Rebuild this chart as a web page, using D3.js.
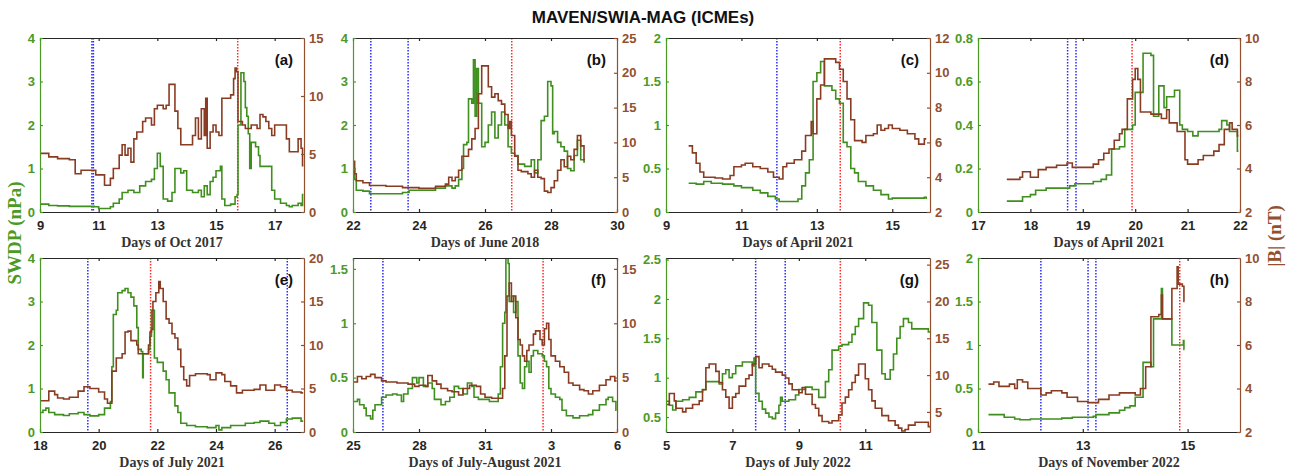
<!DOCTYPE html>
<html><head><meta charset="utf-8">
<script src="https://cdn.jsdelivr.net/npm/d3@7"></script>
<style>body{margin:0;background:#fff}svg{display:block}</style>
</head><body>
<script>
// ---------- DATA ----------
const panelLabels = ["(a)","(b)","(c)","(d)","(e)","(f)","(g)","(h)"];
const xLabels = ["Days of Oct 2017","Days of June 2018","Days of April 2021","Days of April 2021",
  "Days of July 2021","Days of July-August 2021","Days of July 2022","Days of November 2022"];
const xDomains = [[9,18],[22,30],[9,16],[17,22],[18,27],[25,37],[5,12.95],[11,16]];
const xTickVals = [[9,11,13,15,17],[22,24,26,28,30],[9,11,13,15],[17,18,19,20,21,22],
  [18,20,22,24,26],[25,28,31,34,37],[5,7,9,11],[11,13,15]];
const xTickLabels = [["9","11","13","15","17"],["22","24","26","28","30"],["9","11","13","15"],
  ["17","18","19","20","21","22"],["18","20","22","24","26"],["25","28","31","3","6"],
  ["5","7","9","11"],["11","13","15"]];
const leftDomains = [[0,4],[0,4],[0,2],[0,0.8],[0,4],[0,1.6],[0.31,2.52],[0,2]];
const leftTicks = [[0,1,2,3,4],[0,1,2,3,4],[0,0.5,1,1.5,2],[0,0.2,0.4,0.6,0.8],[0,1,2,3,4],
  [0,0.5,1,1.5],[0.5,1,1.5,2,2.5],[0,0.5,1,1.5,2]];
const rightDomains = [[0,15],[0,25],[2,12],[2,10],[0,20],[0,16],[2.27,25.9],[2,10]];
const rightTicks = [[0,5,10,15],[0,5,10,15,20,25],[2,4,6,8,10,12],[2,4,6,8,10],[0,5,10,15,20],
  [0,5,10,15],[5,10,15,20,25],[2,4,6,8,10]];
const blueLines = [[10.77,10.82],[22.54,23.67],[11.94],[18.71,18.87],[19.63,26.43],[26.36],[7.7,8.59],[12.2,13.1,13.25]];
const redLines = [[15.74],[26.81],[13.62],[19.94],[21.77],[33.64],[10.25],[14.85]];

const swdpA = [[9,0.18],[9.3,0.15],[9.6,0.14],[10,0.13],[10.4,0.13],[10.85,0.12],[11,0.08],[11.35,0.08],[11.4,0.12],[11.5,0.2],[11.7,0.3],[11.8,0.45],[12,0.5],[12.2,0.45],[12.4,0.6],[12.6,0.7],[12.8,0.75],[12.9,1.0],[13.0,1.35],[13.1,1.05],[13.2,0.3],[13.35,0.25],[13.5,0.45],[13.6,1.0],[13.8,0.9],[13.9,0.95],[14.0,0.5],[14.2,0.45],[14.4,0.5],[14.5,0.35],[14.6,0.6],[14.7,0.4],[14.8,0.7],[14.9,0.8],[15.0,0.95],[15.15,1.05],[15.2,0.3],[15.3,0.15],[15.5,0.18],[15.65,0.35],[15.72,0.4],[15.75,2.0],[15.85,3.2],[15.95,3.0],[16.0,2.4],[16.05,2.2],[16.1,1.8],[16.15,1.0],[16.2,1.6],[16.35,1.5],[16.45,1.3],[16.5,1.05],[16.8,1.05],[16.9,0.5],[17.0,0.3],[17.2,0.2],[17.4,0.15],[17.5,0.12],[17.6,0.15],[17.8,0.2],[17.9,0.15],[17.95,0.4],[17.98,0.4]];
const bA = [[9,5.05],[9.3,4.75],[9.6,4.6],[10,4.5],[10.2,3.3],[10.4,3.6],[10.8,3.6],[10.9,3.2],[11.1,3.2],[11.2,2.3],[11.4,2.9],[11.5,3.75],[11.7,4.9],[11.8,5.8],[11.9,4.9],[12,5.5],[12.1,4.3],[12.2,6.3],[12.3,6.9],[12.5,7.8],[12.6,8.1],[12.8,7.5],[12.9,8.9],[13,9.2],[13.2,8.9],[13.3,9.2],[13.4,11],[13.5,11],[13.6,8.7],[13.7,7.2],[13.8,5.8],[14,5.8],[14.2,6.6],[14.3,8.1],[14.4,6.3],[14.5,8.9],[14.6,6.6],[14.65,9.8],[14.7,5.5],[14.8,6.9],[14.9,7.5],[15,6.9],[15.1,6.6],[15.2,9.8],[15.4,9.8],[15.5,10.1],[15.6,11.5],[15.65,12.4],[15.7,12.1],[15.75,7.8],[15.9,7.5],[16,7.2],[16.2,7.5],[16.4,7.2],[16.5,8.4],[16.6,8.2],[16.7,7.8],[16.8,7.2],[16.9,6.6],[17,7.5],[17.3,7.5],[17.4,6.3],[17.5,5.2],[17.7,5.2],[17.8,6.3],[17.9,5.5],[17.95,4.0],[17.98,4.0]];

const swdpB = [[22,1.0],[22.05,0.75],[22.1,0.5],[22.3,0.48],[22.5,0.42],[23,0.42],[23.5,0.45],[23.7,0.5],[24,0.5],[24.5,0.55],[24.8,0.6],[25,0.55],[25.1,0.6],[25.2,0.75],[25.3,1.0],[25.35,1.55],[25.45,1.6],[25.5,2.6],[25.6,2.5],[25.65,3.5],[25.7,2.2],[25.75,3.3],[25.8,2.5],[25.9,1.5],[26,1.6],[26.1,2.0],[26.2,2.3],[26.3,1.7],[26.4,2.0],[26.5,2.3],[26.6,2.0],[26.7,1.5],[26.8,1.35],[26.9,1.3],[27,1.1],[27.2,1.05],[27.4,1.2],[27.5,0.9],[27.6,1.2],[27.7,2.1],[27.8,2.2],[27.9,3.0],[28,2.9],[28.05,1.8],[28.1,1.85],[28.2,1.6],[28.3,1.5],[28.4,1.4],[28.5,1.0],[28.6,0.95],[28.7,1.3],[28.8,1.65],[28.9,1.2],[29,1.15],[29.03,1.15]];
const bB = [[22,7.3],[22.05,5.5],[22.1,4.5],[22.3,4.2],[22.5,3.8],[23,3.7],[23.5,3.5],[24,3.4],[24.5,3.7],[24.8,4.0],[24.9,5.0],[25,4.5],[25.1,5.0],[25.2,6.0],[25.3,8.0],[25.5,9.0],[25.6,10.5],[25.7,12.0],[25.8,17.0],[25.9,21.0],[26,21.0],[26.1,18.0],[26.2,16.5],[26.3,17.0],[26.4,16.0],[26.5,15.5],[26.6,14.0],[26.7,12.0],[26.75,13.0],[26.8,11.0],[26.9,8.0],[27,6.0],[27.1,5.8],[27.3,5.5],[27.4,5.0],[27.5,6.0],[27.6,5.0],[27.7,4.8],[27.8,3.0],[27.9,2.8],[28,3.5],[28.1,4.5],[28.2,6.0],[28.3,7.5],[28.4,6.5],[28.5,8.0],[28.6,7.5],[28.7,9.0],[28.8,11.0],[28.9,9.5],[29,7.5],[29.03,7.5]];

const swdpC = [[9.6,0.33],[9.8,0.32],[10,0.35],[10.2,0.33],[10.5,0.32],[10.8,0.3],[11,0.28],[11.3,0.25],[11.5,0.22],[11.7,0.18],[11.9,0.15],[12,0.12],[12.3,0.12],[12.5,0.15],[12.6,0.3],[12.7,0.45],[12.8,0.6],[12.9,1.5],[13,1.6],[13.1,1.73],[13.2,1.45],[13.3,1.45],[13.4,1.4],[13.5,1.3],[13.6,1.25],[13.7,0.8],[13.8,0.75],[13.9,0.5],[14,0.45],[14.1,0.35],[14.3,0.3],[14.5,0.25],[14.7,0.2],[14.9,0.15],[15,0.16],[15.3,0.16],[15.6,0.16],[15.85,0.17],[15.9,0.15]];
const bC = [[9.6,5.8],[9.7,5.4],[9.8,4.8],[9.9,4.3],[10,4.0],[10.3,3.95],[10.5,3.9],[10.7,4.1],[10.8,4.6],[11,4.7],[11.1,4.8],[11.3,4.6],[11.5,4.5],[11.7,4.3],[11.85,4.0],[12,3.9],[12.1,4.6],[12.2,4.8],[12.4,5.0],[12.6,5.5],[12.7,6.4],[12.85,7.2],[12.9,6.5],[13,8.5],[13.1,9.3],[13.2,10.8],[13.4,10.8],[13.5,10.6],[13.6,10.2],[13.7,9.5],[13.8,8.5],[13.9,7.3],[14,6.1],[14.2,6.0],[14.3,6.4],[14.5,6.5],[14.6,7.0],[14.7,6.7],[14.8,6.8],[14.9,7.0],[15,6.8],[15.2,6.7],[15.4,6.5],[15.6,6.2],[15.7,5.9],[15.85,6.2],[15.9,6.2]];

const swdpD = [[17.55,0.05],[17.85,0.07],[18,0.08],[18.1,0.1],[18.3,0.11],[18.5,0.11],[18.75,0.12],[18.85,0.13],[19,0.13],[19.2,0.14],[19.35,0.15],[19.45,0.17],[19.55,0.29],[19.7,0.3],[19.8,0.38],[19.95,0.4],[20,0.55],[20.1,0.55],[20.15,0.73],[20.3,0.72],[20.35,0.44],[20.45,0.58],[20.55,0.48],[20.6,0.53],[20.75,0.56],[20.85,0.4],[20.9,0.38],[21,0.37],[21.1,0.35],[21.2,0.37],[21.4,0.37],[21.6,0.38],[21.65,0.42],[21.75,0.4],[21.8,0.37],[21.9,0.37],[21.95,0.28],[21.97,0.28]];
const bD = [[17.55,3.5],[17.8,3.6],[17.85,3.85],[18,3.6],[18.15,3.95],[18.3,4.05],[18.5,4.15],[18.7,4.25],[18.8,4.05],[19,4.05],[19.2,4.2],[19.3,4.4],[19.4,4.7],[19.5,4.9],[19.6,5.3],[19.7,5.6],[19.75,5.8],[19.85,7.2],[19.95,8.1],[20,8.6],[20.05,8.1],[20.1,6.6],[20.3,6.5],[20.5,6.3],[20.6,6.7],[20.65,6.1],[20.8,5.7],[20.95,4.4],[21,4.2],[21.1,4.2],[21.2,4.4],[21.3,4.6],[21.5,4.8],[21.6,5.1],[21.7,5.8],[21.8,6.1],[21.85,5.8],[21.95,5.5],[21.97,5.5]];

const swdpE = [[18,0.45],[18.1,0.5],[18.2,0.55],[18.3,0.45],[18.5,0.4],[18.8,0.38],[19,0.42],[19.3,0.45],[19.5,0.4],[19.7,0.37],[20,0.4],[20.2,0.55],[20.4,0.7],[20.45,1.5],[20.5,2.7],[20.6,2.8],[20.65,3.2],[20.8,3.25],[20.9,3.3],[21,3.2],[21.1,3.1],[21.2,2.9],[21.3,2.4],[21.35,1.9],[21.45,1.85],[21.5,1.25],[21.52,1.8],[21.7,1.9],[21.75,2.2],[21.8,2.8],[21.85,2.8],[21.9,1.7],[22,1.6],[22.2,1.4],[22.3,1.2],[22.4,0.9],[22.6,0.6],[22.7,0.45],[22.8,0.2],[23,0.15],[23.3,0.12],[23.7,0.1],[24,0.15],[24.1,0.05],[24.2,0.1],[24.5,0.15],[25,0.2],[25.3,0.22],[25.5,0.25],[25.8,0.2],[26,0.15],[26.2,0.22],[26.4,0.3],[26.6,0.32],[26.9,0.25],[26.97,0.25]];
const bE = [[18,3.6],[18.3,4.7],[18.5,4.3],[18.6,3.9],[18.8,3.8],[19,4.0],[19.3,4.7],[19.5,5.2],[19.7,5.0],[20,4.6],[20.2,3.8],[20.3,3.3],[20.45,7.0],[20.6,8.5],[20.8,9.0],[20.9,11.5],[21,11.6],[21.1,10.5],[21.3,10.0],[21.35,9.0],[21.6,9.0],[21.7,10.0],[21.75,11.5],[21.8,11.8],[21.85,15.0],[21.95,16.0],[22.05,17.3],[22.1,16.5],[22.2,15.0],[22.3,13.0],[22.4,12.5],[22.5,11.3],[22.6,10.8],[22.7,9.5],[22.8,7.5],[22.9,6.0],[23,5.3],[23.1,6.5],[23.3,6.7],[23.7,6.6],[23.8,6.0],[24,6.8],[24.2,6.6],[24.3,5.8],[24.5,5.3],[24.7,4.5],[24.9,4.8],[25.3,4.9],[25.5,5.4],[25.7,4.8],[26,5.4],[26.2,5.2],[26.4,4.8],[26.6,4.6],[26.9,4.5],[26.97,4.5]];

const swdpF = [[25,0.28],[25.2,0.3],[25.3,0.25],[25.5,0.22],[25.6,0.15],[25.8,0.12],[25.9,0.2],[26,0.25],[26.3,0.32],[26.5,0.34],[26.8,0.35],[27,0.34],[27.2,0.28],[27.3,0.35],[27.5,0.4],[27.7,0.5],[27.9,0.45],[28,0.5],[28.2,0.42],[28.4,0.45],[28.6,0.4],[28.7,0.3],[29,0.25],[29.2,0.28],[29.4,0.32],[29.6,0.42],[29.8,0.4],[30,0.35],[30.2,0.45],[30.4,0.42],[30.5,0.32],[30.7,0.3],[31.2,0.28],[31.5,0.28],[31.6,0.35],[31.7,0.6],[31.8,1.0],[31.9,1.1],[31.95,1.6],[32.05,1.55],[32.1,1.2],[32.2,1.25],[32.3,1.1],[32.4,1.2],[32.5,0.7],[32.6,0.45],[32.7,0.4],[32.8,0.6],[32.9,0.65],[33,0.55],[33.1,0.7],[33.2,0.75],[33.4,0.72],[33.6,0.7],[33.7,0.65],[33.8,0.6],[33.9,0.4],[34,0.35],[34.2,0.32],[34.4,0.3],[34.5,0.2],[34.7,0.15],[35,0.13],[35.3,0.15],[35.7,0.16],[35.9,0.2],[36.2,0.25],[36.5,0.3],[36.6,0.32],[36.8,0.28],[36.95,0.2],[36.98,0.2]];
const bF = [[25,4.6],[25.2,5.1],[25.4,4.9],[25.6,5.1],[25.8,5.3],[26,5.0],[26.3,4.7],[26.5,4.6],[27,4.5],[27.5,4.4],[27.8,4.2],[28,4.3],[28.3,4.2],[28.4,5.2],[28.6,4.7],[28.8,4.4],[29,4.0],[29.3,3.8],[29.5,3.7],[29.8,3.4],[30,4.0],[30.3,4.3],[30.6,4.2],[30.8,3.5],[31,3.2],[31.3,3.1],[31.7,3.1],[31.8,4.0],[31.9,7.0],[32,12.5],[32.1,13.7],[32.2,12.0],[32.3,12.5],[32.4,10.5],[32.5,8.5],[32.6,8.0],[32.7,7.0],[32.8,6.5],[32.9,7.5],[33,8.0],[33.2,9.0],[33.3,9.3],[33.5,8.5],[33.6,8.0],[33.7,9.5],[33.8,10.0],[33.9,8.5],[34,7.0],[34.2,6.5],[34.4,6.0],[34.6,5.5],[34.8,4.5],[35,4.3],[35.3,3.9],[35.5,3.8],[35.7,3.5],[35.9,3.8],[36.2,4.3],[36.5,4.8],[36.7,5.1],[36.9,4.7],[36.98,4.7]];

const swdpG = [[5,0.7],[5.1,0.65],[5.2,0.59],[5.3,0.7],[5.5,0.72],[5.7,0.75],[5.9,0.82],[6.1,0.85],[6.2,0.95],[6.5,0.95],[6.6,0.92],[6.7,1.05],[6.8,1.1],[6.9,1.0],[7,1.05],[7.1,1.15],[7.3,1.2],[7.5,1.2],[7.6,1.15],[7.65,1.25],[7.7,0.8],[7.8,0.7],[7.9,0.6],[8,0.55],[8.1,0.5],[8.2,0.48],[8.3,0.55],[8.4,0.65],[8.45,0.75],[8.5,0.7],[8.7,0.72],[8.9,0.78],[9,0.85],[9.2,0.88],[9.4,0.85],[9.6,0.75],[9.8,0.95],[9.9,1.1],[10,1.35],[10.2,1.4],[10.3,1.42],[10.5,1.45],[10.6,1.55],[10.7,1.65],[10.8,1.75],[10.95,1.95],[11.1,1.92],[11.2,1.7],[11.35,1.35],[11.5,1.05],[11.6,0.98],[11.75,1.1],[11.85,1.3],[11.95,1.5],[12.05,1.65],[12.15,1.75],[12.3,1.7],[12.4,1.62],[12.6,1.62],[12.8,1.62],[12.9,1.58],[12.95,1.58]];
const bG = [[5,6.0],[5.1,7.5],[5.25,6.5],[5.3,5.5],[5.5,5.0],[5.6,5.5],[5.8,6.0],[6,6.5],[6.1,8.0],[6.2,11.0],[6.3,11.5],[6.5,10.5],[6.6,9.0],[6.7,8.0],[6.8,7.0],[6.9,5.5],[7,7.0],[7.1,7.5],[7.2,8.5],[7.4,9.5],[7.5,10.0],[7.6,11.5],[7.7,12.5],[7.8,11.0],[7.9,11.5],[8.1,11.2],[8.2,10.8],[8.3,10.4],[8.5,10.0],[8.6,9.6],[8.7,8.8],[8.8,8.0],[9,7.6],[9.1,8.3],[9.2,7.4],[9.4,6.0],[9.5,5.5],[9.6,4.5],[9.7,3.7],[9.9,3.5],[10,3.8],[10.2,4.6],[10.3,6.2],[10.4,7.0],[10.5,8.0],[10.6,9.0],[10.7,10.0],[10.8,11.5],[10.9,11.5],[11,9.5],[11.1,8.0],[11.2,6.5],[11.3,5.5],[11.5,4.5],[11.7,3.8],[11.9,3.2],[12,2.8],[12.1,2.4],[12.2,2.6],[12.3,3.2],[12.5,3.6],[12.7,3.6],[12.9,3.0],[12.95,3.0]];

const swdpH = [[11.2,0.2],[11.5,0.17],[11.7,0.15],[11.8,0.14],[12,0.15],[12.3,0.15],[12.6,0.16],[12.8,0.17],[13.2,0.18],[13.25,0.2],[13.5,0.22],[13.7,0.25],[13.8,0.28],[13.9,0.3],[14,0.4],[14.15,0.8],[14.3,0.75],[14.35,1.3],[14.5,1.65],[14.52,1.3],[14.65,1.3],[14.7,1.0],[14.9,1.0],[14.92,1.05],[14.93,0.95],[14.94,0.95]];
const bH = [[11.2,4.2],[11.3,4.3],[11.4,4.1],[11.6,4.2],[11.7,4.0],[11.75,4.4],[11.85,4.3],[11.95,4.0],[12.1,4.0],[12.2,3.7],[12.3,3.8],[12.4,3.9],[12.6,3.8],[12.7,3.6],[12.9,3.4],[13.1,3.35],[13.3,3.5],[13.5,3.7],[13.7,3.8],[13.9,3.8],[14,3.7],[14.1,4.0],[14.2,5.0],[14.3,7.3],[14.45,7.4],[14.5,8.3],[14.52,7.2],[14.6,7.2],[14.7,8.6],[14.8,9.6],[14.82,8.8],[14.9,8.7],[14.93,8.0],[14.94,8.0]];

const swdpSeries = [swdpA, swdpB, swdpC, swdpD, swdpE, swdpF, swdpG, swdpH];
const bSeries = [bA, bB, bC, bD, bE, bF, bG, bH];

// ---------- STYLE / LAYOUT ----------
const W = 1293, H = 475;
const GREEN = "#3f8f1f", GREEN_T = "#4c9a26", BROWN = "#8a3c22", BROWN_T = "#93502f";
const BLUE = "#2a2aff", RED = "#ff2a2a";
const colLeft = [40, 353, 666, 978], colWidth = [264, 264, 264, 262];
const rowTop = [38, 258], ph = 174;

const svg = d3.select("body").append("svg").attr("width", W).attr("height", H)
  .style("font-family", "'Liberation Sans', Arial, sans-serif");

svg.append("text").attr("x", 643).attr("y", 23).attr("text-anchor", "middle")
  .attr("font-weight", "bold").attr("font-size", 17).attr("fill", "#111")
  .text("MAVEN/SWIA-MAG (ICMEs)");

svg.append("text").attr("transform", "translate(21,233) rotate(-90)")
  .attr("text-anchor", "middle").attr("font-family", "'Liberation Serif', 'Times New Roman', serif")
  .attr("font-weight", "bold").attr("font-size", 19).attr("fill", GREEN_T).text("SWDP (nPa)");
svg.append("text").attr("transform", "translate(1281,236) rotate(-90)")
  .attr("text-anchor", "middle").attr("font-family", "'Liberation Serif', 'Times New Roman', serif")
  .attr("font-weight", "bold").attr("font-size", 19).attr("fill", BROWN_T).text("|B| (nT)");

for (let i = 0; i < 8; i++) {
  const x0 = colLeft[i % 4], y0 = rowTop[Math.floor(i / 4)], pw = colWidth[i % 4];
  const g = svg.append("g").attr("transform", `translate(${x0},${y0})`);
  const x = d3.scaleLinear().domain(xDomains[i]).range([0, pw]);
  const yl = d3.scaleLinear().domain(leftDomains[i]).range([ph, 0]);
  const yr = d3.scaleLinear().domain(rightDomains[i]).range([ph, 0]);

  const cid = "clip" + i;
  g.append("clipPath").attr("id", cid).append("rect").attr("width", pw).attr("height", ph);
  const plot = g.append("g").attr("clip-path", `url(#${cid})`);

  // event lines
  blueLines[i].forEach(d => plot.append("line").attr("x1", x(d)).attr("x2", x(d)).attr("y1", 0).attr("y2", ph)
    .attr("stroke", BLUE).attr("stroke-width", 1.5).attr("stroke-dasharray", "1.5,1.5"));
  redLines[i].forEach(d => plot.append("line").attr("x1", x(d)).attr("x2", x(d)).attr("y1", 0).attr("y2", ph)
    .attr("stroke", RED).attr("stroke-width", 1.5).attr("stroke-dasharray", "1.5,1.5"));

  const lineL = d3.line().x(d => x(d[0])).y(d => yl(d[1])).curve(d3.curveStepAfter);
  const lineR = d3.line().x(d => x(d[0])).y(d => yr(d[1])).curve(d3.curveStepAfter);
  plot.append("path").attr("d", lineL(swdpSeries[i])).attr("fill", "none")
    .attr("stroke", GREEN).attr("stroke-width", 1.6);
  plot.append("path").attr("d", lineR(bSeries[i])).attr("fill", "none")
    .attr("stroke", BROWN).attr("stroke-width", 1.6);

  // axes
  const fmt = d => String(+d.toFixed(2));
  const xb = d3.axisBottom(x).tickValues(xTickVals[i]).tickFormat((d, k) => xTickLabels[i][k])
    .tickSizeInner(-3).tickSizeOuter(0).tickPadding(9);
  const xt = d3.axisTop(x).tickValues(xTickVals[i]).tickFormat("").tickSizeInner(-3).tickSizeOuter(0);
  const al = d3.axisLeft(yl).tickValues(leftTicks[i]).tickFormat(fmt).tickSizeInner(-3).tickSizeOuter(0).tickPadding(5);
  const ar = d3.axisRight(yr).tickValues(rightTicks[i]).tickFormat(fmt).tickSizeInner(-3).tickSizeOuter(0).tickPadding(5);

  const gxb = g.append("g").attr("transform", `translate(0,${ph})`).call(xb);
  const gxt = g.append("g").call(xt);
  const gl = g.append("g").call(al);
  const gr = g.append("g").attr("transform", `translate(${pw},0)`).call(ar);
  [gxb, gxt].forEach(a => { a.selectAll("path,line").attr("stroke", "#262626").attr("stroke-width", 1.2); });
  gl.selectAll("path,line").attr("stroke", GREEN_T).attr("stroke-width", 1.2);
  gr.selectAll("path,line").attr("stroke", BROWN_T).attr("stroke-width", 1.2);
  [gxb, gl, gr].forEach(a => a.selectAll("text").attr("font-size", 13).attr("font-weight", "bold")
    .attr("font-family", "'Liberation Sans', Arial, sans-serif"));
  gxb.selectAll("text").attr("fill", "#262626");
  gl.selectAll("text").attr("fill", GREEN_T);
  gr.selectAll("text").attr("fill", BROWN_T);

  g.append("text").attr("x", pw / 2).attr("y", ph + 35).attr("text-anchor", "middle")
    .attr("font-family", "'Liberation Serif', 'Times New Roman', serif").attr("font-weight", "bold")
    .attr("font-size", 14).attr("fill", "#333").text(xLabels[i]);
  g.append("text").attr("x", pw - 11).attr("y", 27).attr("text-anchor", "end")
    .attr("font-weight", "bold").attr("font-size", 15).attr("fill", "#111").text(panelLabels[i]);
}
</script>
</body></html>
